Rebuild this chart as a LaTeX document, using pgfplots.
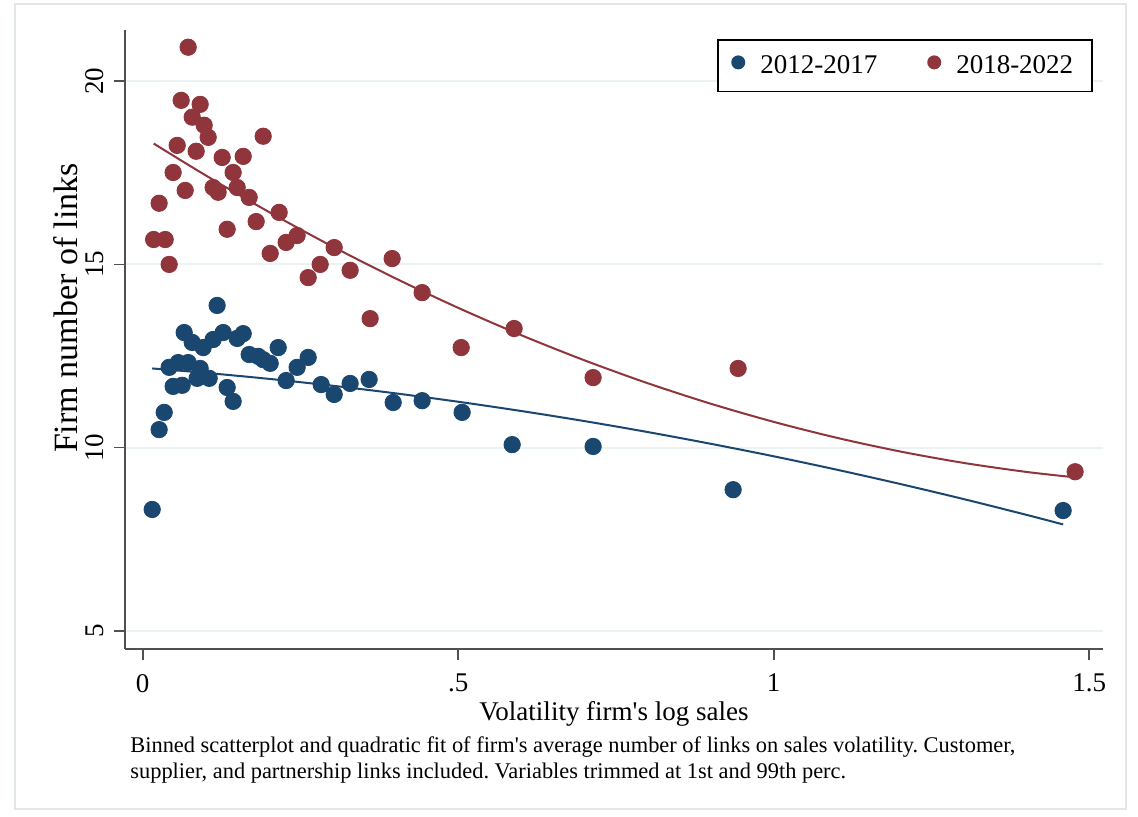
\documentclass[border=0pt]{standalone}
\usepackage{fontspec}
\setmainfont{Liberation Serif}
\usepackage{pgfplots}
\usepackage{pgfplotstable}
\pgfplotsset{compat=1.18}
\definecolor{stnavy}{RGB}{26,71,111}
\definecolor{stmaroon}{RGB}{144,53,59}
\definecolor{gridc}{RGB}{234,242,243}
\definecolor{axc}{RGB}{80,80,80}
\definecolor{framec}{RGB}{225,230,233}

\pgfplotstableread{
x y
0.0151 8.31
0.0261 10.49
0.0341 10.96
0.0420 12.19
0.0483 11.67
0.0563 12.32
0.0626 11.70
0.0658 13.14
0.0721 12.32
0.0785 12.87
0.0864 11.89
0.0911 12.16
0.0959 12.73
0.1054 11.89
0.1117 12.95
0.1180 13.88
0.1276 13.14
0.1339 11.64
0.1434 11.26
0.1498 12.98
0.1593 13.11
0.1688 12.54
0.1831 12.49
0.1910 12.40
0.2021 12.30
0.2148 12.73
0.2274 11.83
0.2448 12.19
0.2623 12.46
0.2829 11.72
0.3035 11.45
0.3288 11.75
0.3589 11.86
0.3970 11.23
0.4429 11.28
0.5063 10.96
0.5856 10.08
0.7139 10.03
0.9358 8.85
1.4588 8.28
}\bluedata

\pgfplotstableread{
x y
0.0174 15.68
0.0261 16.67
0.0357 15.68
0.0420 15.00
0.0483 17.51
0.0547 18.25
0.0610 19.48
0.0674 17.02
0.0721 20.93
0.0785 19.02
0.0848 18.09
0.0911 19.37
0.0975 18.80
0.1038 18.47
0.1117 17.10
0.1196 16.97
0.1260 17.92
0.1339 15.96
0.1434 17.51
0.1498 17.10
0.1593 17.95
0.1688 16.83
0.1799 16.17
0.1910 18.50
0.2021 15.30
0.2163 16.42
0.2274 15.60
0.2448 15.79
0.2623 14.64
0.2813 15.00
0.3035 15.46
0.3288 14.84
0.3605 13.52
0.3954 15.16
0.4429 14.23
0.5048 12.73
0.5887 13.25
0.7139 11.91
0.9437 12.16
1.4778 9.34
}\reddata

\pgfplotstableread{
x y
0.0151 12.160
0.1 12.039
0.2 11.876
0.3 11.690
0.4 11.482
0.5 11.251
0.6 10.998
0.7 10.723
0.8 10.425
0.9 10.104
1.0 9.762
1.1 9.396
1.2 9.008
1.3 8.598
1.4 8.166
1.4588 7.901
}\bluefit

\pgfplotstableread{
x y
0.0174 18.301
0.1 17.430
0.2 16.433
0.3 15.497
0.4 14.625
0.5 13.815
0.6 13.068
0.7 12.383
0.8 11.759
0.9 11.199
1.0 10.702
1.1 10.267
1.2 9.895
1.3 9.584
1.4 9.336
1.4778 9.187
}\redfit

\begin{document}
\frenchspacing
\begin{tikzpicture}
\fill[white] (-62.5pt,-83.5pt) rectangle (506.5pt,324.5pt);
\draw[framec, line width=0.8pt] (-55pt,-80pt) rectangle (500.5pt,322.5pt);
\begin{axis}[
  scale only axis, width=489pt, height=309.5pt,
  at={(0pt,0pt)}, anchor=south west,
  xmin=-0.028, xmax=1.522, ymin=4.5, ymax=21.4,
  axis x line*=bottom, axis y line*=left,
  axis line style={axc, line width=0.9pt},
  every tick/.style={axc, line width=0.9pt},
  major tick length=5.5pt, tick align=outside,
  xtick={0,0.5,1,1.5}, xticklabels={0,.5,1,1.5},
  ytick={5,10,15,20},
  ymajorgrids, major grid style={gridc, line width=1pt},
  /pgf/number format/assume math mode=true,
  ticklabel style={font=\fontsize{13.5}{16}\selectfont},
  yticklabel style={rotate=90, anchor=south},
  xticklabel shift=3.5pt,
  yticklabel shift=1.5pt,
  xlabel={Volatility firm\textquotesingle s log sales},
  ylabel={Firm number of links},
  xlabel style={font=\fontsize{13.5}{16}\selectfont, at={(axis description cs:0.5,0)}, anchor=base, yshift=-35.5pt},
  ylabel style={font=\fontsize{17}{20}\selectfont, at={(axis description cs:-0.0603,0.551)}, anchor=center},
  legend columns=2,
  legend cell align=left,
  legend image code/.code={\fill (3.5pt,1.6pt) circle (3.5pt);},
  legend style={at={(rel axis cs:0.9898,0.9855)}, anchor=north east,
    draw=black, line width=0.8pt, fill=white,
    inner xsep=6.5pt, inner ysep=7.65pt,
    font=\fontsize{13.5}{16}\selectfont,
    nodes={inner sep=0pt},
    /tikz/every odd column/.append style={column sep=7.5pt},
    /tikz/every even column/.append style={column sep=25pt}},
]
\addplot[only marks, mark=*, mark size=4.1pt, color=stnavy, mark options={draw=none, fill=stnavy}, forget plot] table[x=x,y=y] {\bluedata};
\addplot[only marks, mark=*, mark size=4.1pt, color=stmaroon, mark options={draw=none, fill=stmaroon}, forget plot] table[x=x,y=y] {\reddata};
\addplot[stnavy, line width=1pt, smooth, forget plot] table[x=x,y=y] {\bluefit};
\addplot[stmaroon, line width=1pt, smooth, forget plot] table[x=x,y=y] {\redfit};
\addlegendimage{fill=stnavy, draw=none}
\addlegendentry{2012-2017}
\addlegendimage{fill=stmaroon, draw=none}
\addlegendentry{2018-2022\hspace*{3pt}}
\end{axis}
\node[anchor=base west, font=\fontsize{11.2}{13}\selectfont, inner sep=0pt] at (2.5pt,-51.5pt) {Binned scatterplot and quadratic fit of firm\textquotesingle s average number of links on sales volatility. Customer,};
\node[anchor=base west, font=\fontsize{11.2}{13}\selectfont, inner sep=0pt] at (2.5pt,-64.5pt) {supplier, and partnership links included. Variables trimmed at 1st and 99th perc.};
\pgfresetboundingbox
\path (-62.5pt,-83.5pt) rectangle (506.5pt,324.5pt);
\end{tikzpicture}
\end{document}
